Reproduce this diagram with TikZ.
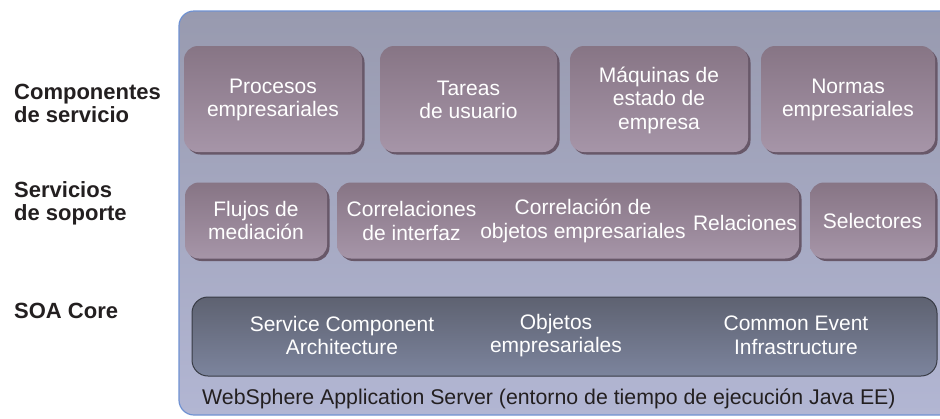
\documentclass[tikz,border=0pt]{standalone}
\usepackage{fontspec}
\setmainfont{Liberation Sans}
\definecolor{outtop}{HTML}{989AAF}
\definecolor{outbot}{HTML}{B2B6D3}
\definecolor{outline}{HTML}{7092D2}
\definecolor{mtop}{HTML}{877585}
\definecolor{mbot}{HTML}{A695A8}
\definecolor{mshadow}{HTML}{685869}
\definecolor{ctop}{HTML}{5E6271}
\definecolor{cbot}{HTML}{7C849D}
\definecolor{cline}{HTML}{383B45}
\definecolor{txtdark}{HTML}{231F20}
\begin{document}
\begin{tikzpicture}[x=1pt,y=-1pt,
  boxtext/.style={font=\fontsize{21}{23.5}\selectfont, text=white, align=center, inner sep=0pt},
  comp/.style={rounded corners=14pt, top color=mtop, bottom color=mbot, draw=none, inner sep=0pt,
    preaction={fill=mshadow, transform canvas={shift={(2.5pt,-2.5pt)}}}},
  core/.style={rounded corners=16pt, top color=ctop, bottom color=cbot, draw=cline, line width=1pt, inner sep=0pt},
  layer/.style={font=\bfseries\fontsize{22}{22.5}\selectfont, text=txtdark, align=left, anchor=west, inner sep=0pt}]
\useasboundingbox (0,0) rectangle (940,418);
\clip (0,0) rectangle (940,418);
% outer container
\node[rounded corners=15pt, top color=outtop, bottom color=outbot, draw=outline, line width=1.2pt,
  minimum width=800pt, minimum height=404pt, inner sep=0pt] (server) at (579,213) {};
% layer labels
\node[layer] (lcomp) at (14,103.5) {Componentes\\de servicio};
\node[layer] (lsup) at (14,203.5) {Servicios\\de soporte};
\node[layer] (lcore) at (14,310.5) {SOA Core};
% row 1
\node[comp, minimum width=178pt, minimum height=106pt] (proc) at (273,99) {};
\node[boxtext] (proct) at (273,100) {Procesos\\empresariales};
\node[comp, minimum width=177pt, minimum height=106pt] (tar) at (468.5,99) {};
\node[boxtext] (tart) at (468.5,100) {Tareas\\de usuario};
\node[comp, minimum width=178pt, minimum height=106pt] (maq) at (659,99) {};
\node[boxtext] (maqt) at (659,100) {Máquinas de\\estado de\\empresa};
\node[comp, minimum width=174pt, minimum height=106pt] (nor) at (848,99) {};
\node[boxtext] (nort) at (848,100) {Normas\\empresariales};
% row 2
\node[comp, minimum width=142pt, minimum height=76pt] (flu) at (256,220.5) {};
\node[boxtext] (flut) at (flu.center) {Flujos de\\mediación};
\node[comp, minimum width=462pt, minimum height=76pt] (big) at (568,220.5) {};
\node[boxtext] (corr1) at (411.5,221) {Correlaciones\\de interfaz};
\node[boxtext] (corr2) at (583,221) {Correlación de\\objetos empresariales};
\node[boxtext] (rel) at (745,223) {Relaciones};
\node[comp, minimum width=125pt, minimum height=76pt] (sel) at (872.5,220.5) {};
\node[boxtext] (selt) at (sel.center) {Selectores};
% row 3
\node[core, minimum width=745pt, minimum height=79pt] (soa) at (564.5,336.5) {};
\node[boxtext] (sca) at (342,335.5) {Service Component\\Architecture};
\node[boxtext] (obj) at (556,335.5) {Objetos\\empresariales};
\node[boxtext] (cei) at (796,335.5) {Common Event\\Infrastructure};
% bottom caption
\node[font=\fontsize{21.3}{23}\selectfont, text=txtdark, anchor=base west, inner sep=0pt] (was) at (202,404)
  {WebSphere Application Server (entorno de tiempo de ejecución Java EE)};
\end{tikzpicture}
\end{document}
